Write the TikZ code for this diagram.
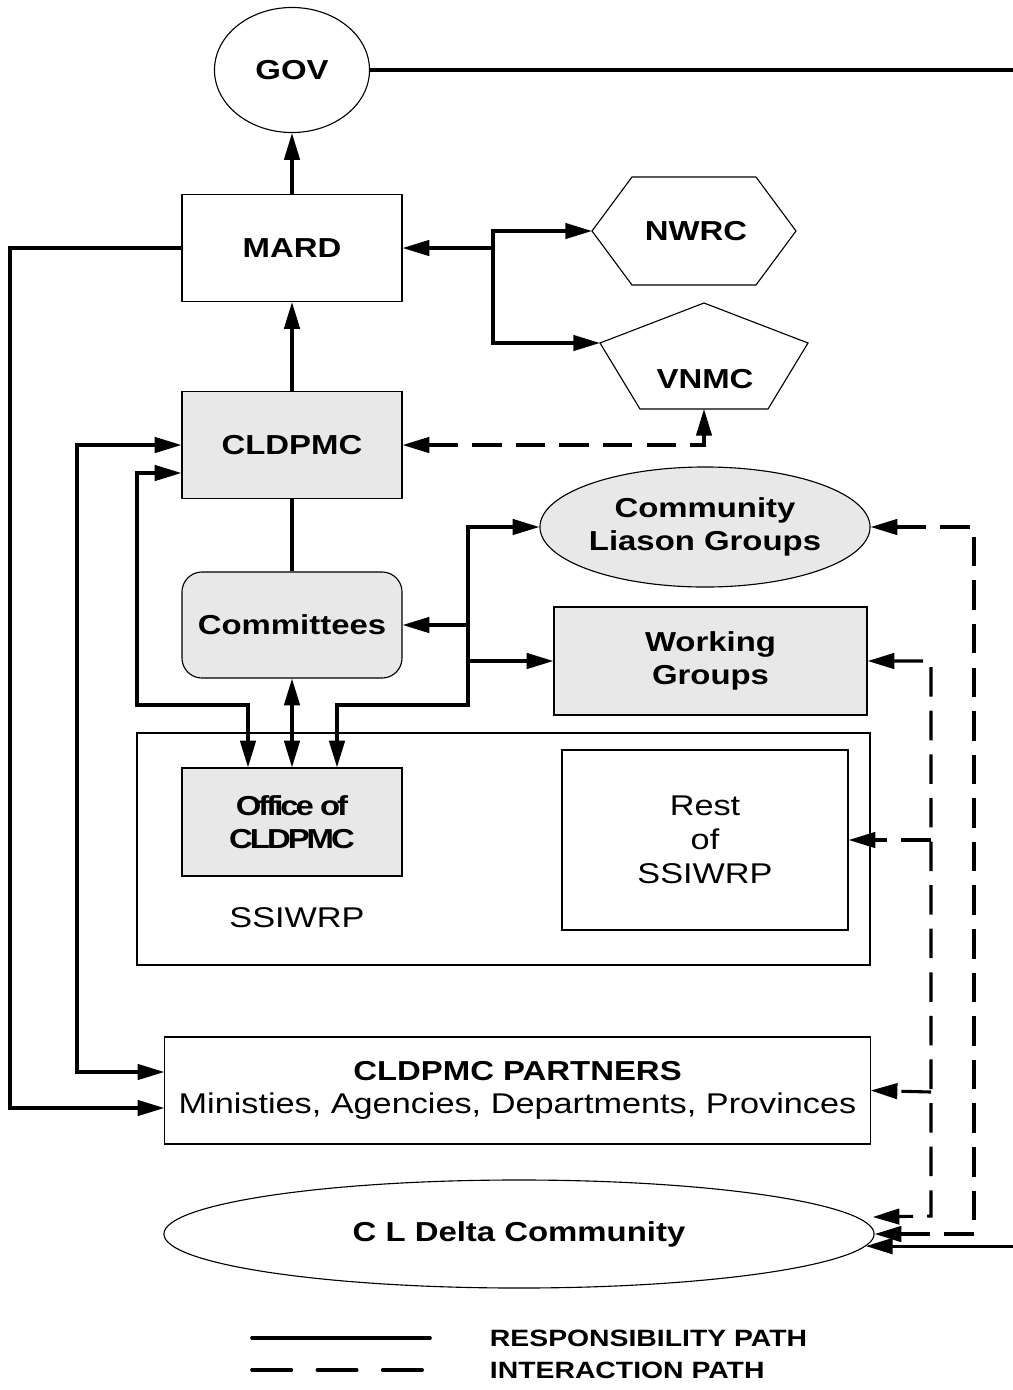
\documentclass[tikz,border=0pt]{standalone}
\usepackage{fontspec}
\setmainfont{Liberation Sans}[FakeStretch=1.2]
\usetikzlibrary{positioning,arrows.meta,shapes,calc}
\definecolor{shadec}{gray}{0.91}
\newcommand{\labelbf}{\fontsize{19.5}{23.5}\selectfont\bfseries}
\newcommand{\labelrm}{\fontsize{20.3}{24}\selectfont\mdseries}
\newcommand{\legfont}{\fontsize{16.8}{19}\selectfont\bfseries}

\begin{document}
\begin{tikzpicture}[x=0.025cm, y=-0.025cm,
    >={Triangle[length=19pt,width=11pt]},
    conn/.style={line width=2.2pt},
    intpath/.style={line width=2.2pt, dash pattern=on 21pt off 10pt},
    box/.style={draw, line width=0.8pt, inner sep=0pt, align=center, font=\labelbf},
    shade/.style={fill=shadec}]
    \path[use as bounding box, fill=white] (0,0) rectangle (1013,1390);

    \node[box, ellipse, minimum width=3.875cm, minimum height=3.125cm] (gov) at (292,70) {GOV};
    \node[box, minimum width=5.5cm, minimum height=2.675cm] (mard) at (292,248) {MARD};
    \node[box, shade, minimum width=5.5cm, minimum height=2.675cm] (cldpmc) at (292,445) {CLDPMC};
    \node[box, shade, rounded corners=0.5cm, minimum width=5.5cm, minimum height=2.65cm] (comm) at (292,625) {Committees};

    % hexagon and pentagon
    \node[font=\labelbf] (nwrc) at (696,231) {NWRC};
    \draw[line width=0.8pt] (592,231) coordinate (nwrcw) -- (632,177) -- (756,177) -- (796,231) -- (756,285) -- (632,285) -- cycle;
    \node[font=\labelbf] (vnmc) at (705,379) {VNMC};
    \draw[line width=0.8pt] (704,303) -- (808,343) -- (768,409) -- (640,409) -- (600,343) coordinate (vnmcw) -- cycle;
    \coordinate (vnmcs) at (704,409);

    \node[box, shade, ellipse, minimum width=8.25cm, minimum height=3cm] (clg) at (705,527) {Community\\Liason Groups};
    \node[box, shade, minimum width=7.825cm, minimum height=2.7cm] (wg) at (710.5,661) {Working\\Groups};

    \node[box, line width=1.1pt, minimum width=18.325cm, minimum height=5.8cm] (ssiwrp) at (503.5,849) {};
    \node[font=\labelrm] (ssilab) at (297,918) {SSIWRP};
    \node[box, shade, minimum width=5.5cm, minimum height=2.7cm,
          font=\labelbf\addfontfeature{LetterSpace=-11}] (office) at (292,822) {Office of\\CLDPMC};
    \node[box, font=\labelrm, minimum width=7.15cm, minimum height=4.5cm] (rest) at (705,840) {Rest\\of\\SSIWRP};

    \node[box, minimum width=17.625cm, minimum height=2.675cm] (partners) at (517.5,1090.5)
        {CLDPMC PARTNERS\\{\labelrm Ministies, Agencies, Departments, Provinces}};
    \node[box, ellipse, minimum width=17.75cm, minimum height=2.7cm] (cld) at (519,1234) {C L Delta Community};

    % responsibility paths
    \draw[conn,->] (mard) -- (gov);
    \draw[conn,->] (cldpmc) -- (mard);
    \draw[conn] (cldpmc) -- (comm);
    \draw[conn,<->] (comm) -- (office);
    \coordinate (jm) at (493,248);
    \draw[conn,->] (jm) -- (mard.east);
    \draw[conn,->] (jm) |- (nwrcw);
    \draw[conn,->] (jm) |- (vnmcw);
    \draw[conn,->] (mard.west) -- (10,248) |- ($(partners.west)+(0,17.5)$);
    \draw[conn,<->] (cldpmc.west) -- (77,445) |- ($(partners.west)+(0,-18.5)$);
    \draw[conn,<->] ($(cldpmc.west)+(0,28)$) -| (137,705) -| ($(office.north)+(-44,0)$);
    \coordinate (jc) at (468,625);
    \draw[conn,->] (jc) -- (comm.east);
    \draw[conn,->] (jc) |- (clg.west);
    \draw[conn,->] (jc) |- (wg.west);
    \draw[conn,->] (jc) |- (337,705) -- ($(office.north)+(45,0)$);
    \draw[conn,->] (gov.east) -- (1040,70) |- (cld.-2.7);

    % interaction paths
    \draw[intpath,<->] (cldpmc.east) -| (vnmcs);
    \draw[intpath,<->] (clg.east) -| (974,1234) -- (cld.east);
    \draw[intpath,<->] (wg.east) -| (931,1216) -- ($(cld.east)+(-2,-17)$);
    \draw[intpath,->] (931,840) -- (rest.east);
    \draw[intpath,->] (931,1092) -- (partners.east);

    % legend
    \node[font=\legfont, anchor=west] (lresp) at (485,1338) {RESPONSIBILITY PATH};
    \node[font=\legfont, anchor=west] (linter) at (485,1370) {INTERACTION PATH};
    \draw[conn, line width=2.6pt, line cap=round] ($(lresp.west)+(-233,0)$) -- ++(178,0);
    \draw[conn, line width=2.6pt, line cap=round, dash pattern=on 28pt off 18.5pt] ($(linter.west)+(-233,0)$) -- ++(178,0);
    % \draw[conn] (gov.east) -- (1013,70);
\end{tikzpicture}
\end{document}
